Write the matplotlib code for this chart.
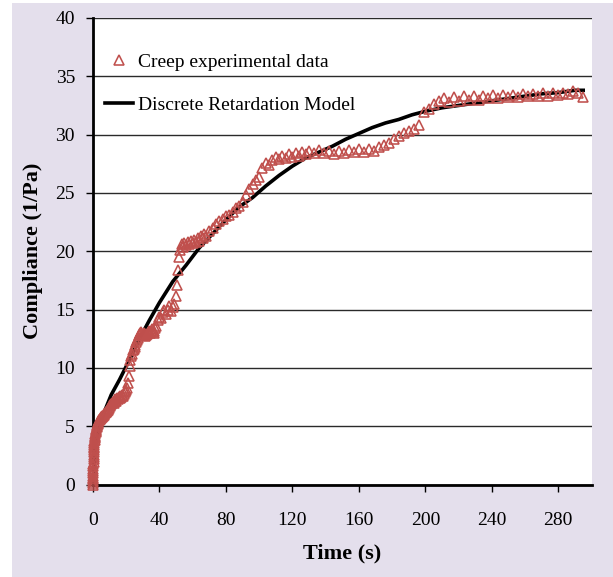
import matplotlib
matplotlib.use("Agg")
import matplotlib.pyplot as plt
from matplotlib.patches import Rectangle

plt.rcParams['font.family'] = 'Liberation Serif'

# creep test, time in seconds, compliance in 1/Pa
t_exp = [0.0, 0.02, 0.04, 0.06, 0.08, 0.1, 0.13, 0.16, 0.2, 0.24, 0.28, 0.32, 0.36, 0.4, 0.45, 0.5, 0.55,
         0.6, 0.66, 0.72, 0.8, 0.88, 0.96, 1.05, 1.15, 1.25, 1.4, 1.55, 1.7, 1.85, 2.0, 2.2, 2.4, 2.6, 2.8, 3.0,
         3.3, 3.6, 3.9, 4.2, 4.5, 4.8, 5.1, 5.4, 5.7, 6.0, 6.4, 6.8, 7.2, 7.6, 8.0, 8.4, 8.8, 9.2, 9.6, 10.0,
         10.5, 11, 11.5, 12, 12.5, 13, 13.5, 14, 14.5, 15, 15.5, 16, 16.5, 17, 17.5, 18, 18.5, 19, 19.5, 20,
         20.5, 21, 21.5, 22, 22.5, 23, 23.5, 24,
         24.5, 25, 25.5, 26, 26.5, 27, 27.5, 28, 28.5, 29, 29.5, 30, 30.5, 31, 31.5, 32, 32.5, 33, 33.5, 34,
         34.5, 35, 35.5, 36, 36.5, 37, 37.5, 38, 39, 40, 41, 42, 43, 44, 45, 46, 47, 48, 49,
         50, 50.6, 51.3, 52, 52.6, 53.3,
         54, 55, 56, 57, 58, 59, 60, 61, 62, 63, 64, 65, 66, 67, 68, 70, 72, 74, 76, 78, 80, 82, 84, 86, 88,
         90, 92, 94, 96, 98, 100, 102, 104, 106,
         108, 110, 112, 114, 116, 118, 120, 122, 124, 126, 128, 130, 133, 136, 139, 142, 145, 148, 151, 154,
         157, 160, 163, 166, 169, 172,
         175, 178, 181, 184, 187, 190, 193, 196, 199, 202, 205, 208,
         211, 214, 217, 220, 223, 226, 229, 232, 235, 238, 241, 244, 247, 250, 253, 256, 259, 262, 265, 268,
         271, 274, 277, 280, 283, 286, 289, 292, 295]
j_exp = [0.0, 0.15, 0.3, 0.45, 0.6, 0.75, 0.95, 1.15, 1.35, 1.55, 1.75, 1.95, 2.15, 2.35, 2.55, 2.75, 2.95,
         3.1, 3.25, 3.4, 3.55, 3.7, 3.85, 4.0, 4.1, 4.2, 4.35, 4.5, 4.6, 4.7, 4.8, 4.9, 5.0, 5.1, 5.2, 5.3,
         5.4, 5.5, 5.55, 5.6, 5.65, 5.7, 5.75, 5.8, 5.85, 5.9, 6.0, 6.05, 6.1, 6.2, 6.25, 6.3, 6.4, 6.5, 6.6, 6.7,
         6.8, 6.9, 7.0, 7.1, 7.0, 7.2, 7.3, 7.2, 7.4, 7.3, 7.5, 7.4, 7.6, 7.5, 7.7, 7.6, 7.8, 7.9, 8.0, 8.1,
         8.3, 8.7, 9.3, 10.2, 10.7, 11.0, 11.2, 11.5,
         11.6, 11.8, 12.0, 12.2, 12.4, 12.6, 12.8, 12.9, 13.0, 13.1, 12.9, 12.8, 13.0, 12.9, 12.7, 12.8, 12.9,
         13.0, 13.2, 13.1, 13.0, 13.2, 13.3, 13.1, 13.0, 13.2, 13.4, 13.6, 14.1, 14.4, 14.3, 14.8, 15.0, 14.6,
         15.0, 15.3, 14.9, 15.2, 15.5,
         16.2, 17.1, 18.4, 19.5, 20.1, 20.6,
         20.4, 20.7, 20.5, 20.8, 20.6, 20.9, 20.7, 21.0, 20.8, 21.1, 20.9, 21.3, 21.1, 21.5, 21.3, 21.7, 22.0,
         22.3, 22.6, 22.8, 23.0, 23.1, 23.4, 23.7, 23.9,
         24.2, 24.8, 25.3, 25.8, 26.1, 26.4, 27.1, 27.6, 27.4,
         27.8, 28.1, 27.9, 28.2, 28.0, 28.3, 28.1, 28.4, 28.2, 28.5, 28.3, 28.6, 28.4, 28.7, 28.4, 28.6, 28.3,
         28.6, 28.4, 28.7, 28.5, 28.8, 28.5, 28.8, 28.6, 28.9,
         29.1, 29.3, 29.6, 29.9, 30.1, 30.3, 30.5, 30.8, 31.9, 32.2, 32.6, 32.9,
         33.1, 32.8, 33.2, 32.9, 33.3, 33.0, 33.3, 33.0, 33.3, 33.1, 33.4, 33.1, 33.4, 33.2, 33.4, 33.2, 33.5,
         33.3, 33.5, 33.3, 33.6, 33.3, 33.6, 33.4, 33.6, 33.5, 33.7, 33.6, 33.2]

# fitted discrete retardation spectrum
t_model = [0, 1, 2, 4, 7, 11, 16, 22, 28, 34, 40, 48, 56, 64, 72, 80, 88, 96, 104, 112, 120, 128, 136,
           144, 152, 160, 168, 176, 184, 192, 200, 210, 220, 230, 240, 250, 260, 270, 280, 290, 295]
j_model = [0, 2.5, 3.8, 5.0, 6.3, 7.7, 9.0, 10.7, 12.5, 14.1, 15.6, 17.4, 18.8, 20.3, 21.5, 22.7, 23.8,
           24.6, 25.6, 26.5, 27.3, 28.0, 28.5, 29.0, 29.6, 30.1, 30.6, 31.0, 31.3, 31.7, 32.0, 32.3, 32.5,
           32.7, 32.9, 33.1, 33.3, 33.5, 33.6, 33.8, 33.8]

x_ticks = [0, 40, 80, 120, 160, 200, 240, 280]
y_ticks = [0, 5, 10, 15, 20, 25, 30, 35, 40]

fig = plt.figure(figsize=(6.13, 5.77), dpi=100)
fig.patch.set_facecolor('white')
# lavender panel behind the chart
fig.patches.append(Rectangle((12 / 613, 0), 1, 1 - 3 / 577, transform=fig.transFigure,
                             facecolor='#E4DFEC', edgecolor='none', zorder=-1))

ax = fig.add_axes([93 / 613, 1 - 484.5 / 577, 498.5 / 613, 466.5 / 577])
ax.set_facecolor('white')

ax.plot(t_exp, j_exp, linestyle='none', marker='^', markersize=7.5, markerfacecolor='none',
        markeredgecolor='#C0504D', markeredgewidth=1.15, clip_on=False, zorder=4,
        label='Creep experimental data')
ax.plot(t_model, j_model, color='black', linewidth=2.6, zorder=3,
        label='Discrete Retardation Model')

ax.set_xlim(0, 300)
ax.set_ylim(0, 40)
ax.set_xticks(x_ticks)
ax.set_yticks(y_ticks)
ax.yaxis.grid(True, color='#2a2a2a', linewidth=1.0)
ax.set_axisbelow(True)

for side in ['top', 'right']:
    ax.spines[side].set_visible(False)
for side in ['left', 'bottom']:
    ax.spines[side].set_linewidth(2.0)
    ax.spines[side].set_color('black')

ax.tick_params(axis='both', direction='out', length=5, width=1.0, labelsize=14)
ax.tick_params(axis='y', pad=8)
ax.tick_params(axis='x', pad=14.5)

ax.set_xlabel('Time (s)', fontsize=16, fontweight='bold', labelpad=11)
ax.set_ylabel('Compliance (1/Pa)', fontsize=16, fontweight='bold', labelpad=9)

ax.legend(loc='upper left', bbox_to_anchor=(0.024, 0.924), frameon=False, fontsize=14,
          labelspacing=1.3, handlelength=1.45, handletextpad=0.25, borderpad=0, borderaxespad=0)

fig.savefig('out.png', dpi=100, facecolor=fig.get_facecolor())
